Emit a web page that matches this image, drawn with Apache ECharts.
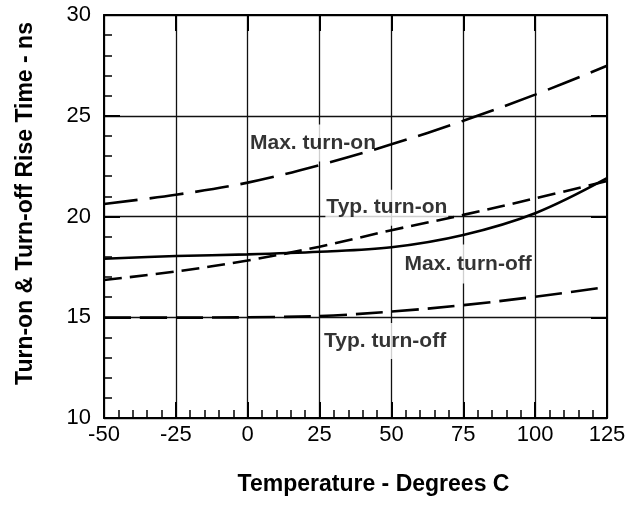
<!DOCTYPE html>
<html><head><meta charset="utf-8">
<script src="https://cdn.jsdelivr.net/npm/echarts@6/dist/echarts.min.js"></script>
<style>html,body{margin:0;padding:0;background:#fff}#c{width:643px;height:507px}</style>
</head><body><div id="c"></div>
<script>
const temps = [-50, -25, 0, 25, 50, 75, 100, 125];
const maxTurnOn = [20.62, 21.08, 21.68, 22.55, 23.58, 24.75, 26.05, 27.48];
const typTurnOn = [16.85, 17.27, 17.82, 18.5, 19.32, 20.08, 20.9, 21.76];
const maxTurnOff = [17.9, 18.04, 18.12, 18.25, 18.47, 19.08, 20.16, 21.9];
const typTurnOff = [14.98, 14.98, 15.0, 15.06, 15.28, 15.6, 16.02, 16.5];
const xTicks = [-50, -25, 0, 25, 50, 75, 100, 125];
const yTicks = [10, 15, 20, 25, 30];
const labelTexts = ['Max. turn-on', 'Typ. turn-on', 'Max. turn-off', 'Typ. turn-off'];
const labelTemps = [22.7, 48.4, 76.7, 47.8];
const labelValues = [23.65, 20.44, 17.64, 13.82];

// label box paddings (style only)
const labelPads = [[15, 1, 1, 1], [15, 1, 0, 1], [3, 1, 15, 1], [5, 1, 10, 1]];

const FONT = '"Liberation Sans", Arial, Helvetica, sans-serif';
const pair = (ys) => temps.map((t, i) => [t, ys[i]]);

const chart = echarts.init(document.getElementById('c'), null, {renderer: 'canvas'});
const baseX = {type: 'value', min: xTicks[0], max: xTicks[xTicks.length - 1], interval: 25};
const baseY = {type: 'value', min: yTicks[0], max: yTicks[yTicks.length - 1], interval: 5};
const frameLine = {show: true, onZero: false, lineStyle: {color: '#000', width: 2}};
const majorTick = {show: true, inside: true, length: 16, lineStyle: {color: '#000', width: 2}};
const minor = {show: true, splitNumber: 5, length: 8, lineStyle: {color: '#000', width: 1.5}};
const grid = {show: true, lineStyle: {color: '#111', width: 1.3}};
chart.setOption({
  animation: false,
  backgroundColor: '#fff',
  grid: {left: 104, right: 36, top: 15, bottom: 89, containLabel: false},
  xAxis: [
    Object.assign({}, baseX, {
      position: 'bottom',
      name: 'Temperature - Degrees C', nameLocation: 'middle', nameGap: 55,
      nameTextStyle: {fontFamily: FONT, fontWeight: 'bold', fontSize: 23, color: '#000', padding: [0, 0, 0, 36]},
      axisLine: frameLine, axisTick: majorTick, minorTick: minor,
      axisLabel: {fontFamily: FONT, fontSize: 22, color: '#000', margin: 6},
      splitLine: grid
    }),
    Object.assign({}, baseX, {
      position: 'top', axisLine: frameLine, axisTick: majorTick,
      axisLabel: {show: false}, splitLine: {show: false}
    })
  ],
  yAxis: [
    Object.assign({}, baseY, {
      position: 'left',
      name: 'Turn-on & Turn-off Rise Time - ns', nameLocation: 'middle', nameGap: 67, nameRotate: 90,
      nameTextStyle: {fontFamily: FONT, fontWeight: 'bold', fontSize: 23, color: '#000', padding: [0, 0, 0, 26]},
      axisLine: frameLine, axisTick: majorTick, minorTick: minor,
      axisLabel: {fontFamily: FONT, fontSize: 22, color: '#000', margin: 13},
      splitLine: grid
    }),
    Object.assign({}, baseY, {
      position: 'right', axisLine: frameLine, axisTick: majorTick,
      axisLabel: {show: false}, splitLine: {show: false}
    })
  ],
  series: [
    {name: 'Max. turn-on', type: 'line', data: pair(maxTurnOn), smooth: 0.35, symbol: 'none',
     lineStyle: {color: '#000', width: 2.6, type: [34, 12]}, z: 3},
    {name: 'Typ. turn-on', type: 'line', data: pair(typTurnOn), smooth: 0.35, symbol: 'none',
     lineStyle: {color: '#000', width: 2.6, type: [18, 8]}, z: 3},
    {name: 'Max. turn-off', type: 'line', data: pair(maxTurnOff), smooth: 0.35, symbol: 'none',
     lineStyle: {color: '#000', width: 2.6, type: 'solid'}, z: 3},
    {name: 'Typ. turn-off', type: 'line', data: pair(typTurnOff), smooth: 0.35, symbol: 'none',
     lineStyle: {color: '#000', width: 2.6, type: [27, 9]}, z: 3},
    {name: 'labels', type: 'scatter', symbolSize: 0, z: 2, silent: true,
     data: labelTexts.map((t, i) => ({value: [labelTemps[i], labelValues[i]], name: t,
       label: {padding: labelPads[i]}})),
     label: {show: true, position: 'inside', formatter: (p) => p.name,
       fontFamily: FONT, fontWeight: 'bold', fontSize: 21, color: '#000',
       backgroundColor: '#fff'}}
  ]
});
</script></body></html>
